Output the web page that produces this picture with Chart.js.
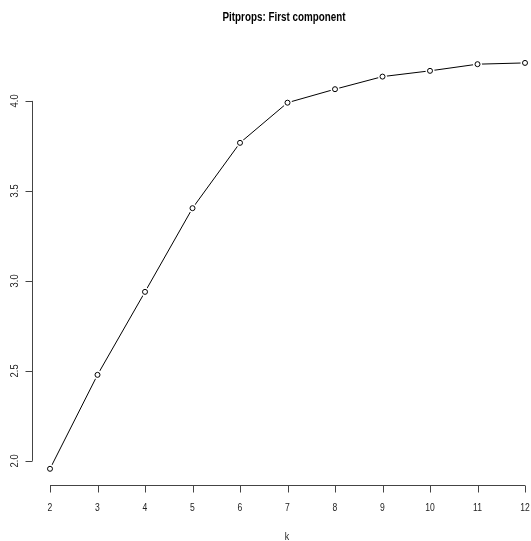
<!DOCTYPE html>
<html>
<head>
<meta charset="utf-8">
<script src="https://cdn.jsdelivr.net/npm/chart.js@4/dist/chart.umd.min.js"></script>
<style>
  body { margin: 0; background: #fff; }
  canvas { display: block; }
</style>
</head>
<body>
<canvas id="chart" width="531" height="541"></canvas>
<script>
// data
const kValues = [2, 3, 4, 5, 6, 7, 8, 9, 10, 11, 12];
const firstComp = [1.956, 2.478, 2.939, 3.404, 3.767, 3.99, 4.065, 4.135, 4.167, 4.204, 4.211];
const xTicks = [2, 3, 4, 5, 6, 7, 8, 9, 10, 11, 12];
const yTicks = [2.0, 2.5, 3.0, 3.5, 4.0];
const yTickLabels = ["2.0", "2.5", "3.0", "3.5", "4.0"];
const titleText = "Pitprops: First component";
const xLabel = "k";

const points = kValues.map((k, i) => ({ x: k, y: firstComp[i] }));
const sans = "'Liberation Sans', Arial, sans-serif";

// text squeezed sideways to look like Helvetica Narrow
function narrowText(ctx, text, x, y, squeeze) {
  ctx.save();
  ctx.translate(x, y);
  ctx.scale(squeeze, 1);
  ctx.fillText(text, 0, 0);
  ctx.restore();
}

// R style axes: lines only between first and last tick, ticks outward
const rAxes = {
  id: "rAxes",
  afterDraw(chart) {
    const ctx = chart.ctx;
    const xs = chart.scales.x, ys = chart.scales.y;
    const area = chart.chartArea;
    ctx.save();
    ctx.strokeStyle = "#444";
    ctx.fillStyle = "#222";
    ctx.lineWidth = 1;

    // x axis
    const axY = area.bottom + 0.5;
    ctx.beginPath();
    ctx.moveTo(xs.getPixelForValue(xTicks[0]), axY);
    ctx.lineTo(xs.getPixelForValue(xTicks[xTicks.length - 1]), axY);
    xTicks.forEach((t) => {
      const px = Math.round(xs.getPixelForValue(t)) + 0.5;
      ctx.moveTo(px, axY);
      ctx.lineTo(px, axY + 7);
    });
    ctx.stroke();
    ctx.font = "11px " + sans;
    ctx.textAlign = "center";
    ctx.textBaseline = "middle";
    xTicks.forEach((t) => {
      narrowText(ctx, String(t), xs.getPixelForValue(t), 508, 0.78);
    });

    // y axis
    const axX = area.left + 1.5;
    ctx.beginPath();
    ctx.moveTo(axX, ys.getPixelForValue(yTicks[0]));
    ctx.lineTo(axX, ys.getPixelForValue(yTicks[yTicks.length - 1]));
    yTicks.forEach((t) => {
      const py = Math.round(ys.getPixelForValue(t)) + 0.5;
      ctx.moveTo(axX, py);
      ctx.lineTo(axX - 7, py);
    });
    ctx.stroke();
    yTicks.forEach((t, i) => {
      ctx.save();
      ctx.translate(15, ys.getPixelForValue(t));
      ctx.rotate(-Math.PI / 2);
      narrowText(ctx, yTickLabels[i], 0, 0, 0.85);
      ctx.restore();
    });

    // axis title and main title
    narrowText(ctx, xLabel, 287, 537, 0.8);
    ctx.fillStyle = "#000";
    ctx.font = "bold 13px " + sans;
    const w = ctx.measureText(titleText).width;
    narrowText(ctx, titleText, 284, 17, 123 / w);
    ctx.restore();
  },
};

new Chart(document.getElementById("chart"), {
  type: "scatter",
  data: {
    datasets: [
      {
        // connecting line
        data: points,
        showLine: true,
        borderColor: "#000",
        borderWidth: 1,
        pointRadius: 0,
        order: 3,
      },
      {
        // white gap around each point, like type = "b"
        data: points,
        showLine: false,
        pointRadius: 4.5,
        pointBackgroundColor: "#fff",
        pointBorderWidth: 0,
        pointBorderColor: "#fff",
        order: 2,
      },
      {
        // open circles
        data: points,
        showLine: false,
        pointRadius: 2.5,
        pointBackgroundColor: "#fff",
        pointBorderColor: "#000",
        pointBorderWidth: 1,
        order: 1,
      },
    ],
  },
  options: {
    responsive: false,
    animation: false,
    layout: { autoPadding: false, padding: { left: 31, right: 0, top: 46, bottom: 56 } },
    plugins: {
      legend: { display: false },
      tooltip: { enabled: false },
    },
    scales: {
      x: { type: "linear", min: 1.6, max: 12.126, display: false },
      y: { type: "linear", min: 1.866, max: 4.305, display: false },
    },
  },
  plugins: [rAxes],
});
</script>
</body>
</html>
